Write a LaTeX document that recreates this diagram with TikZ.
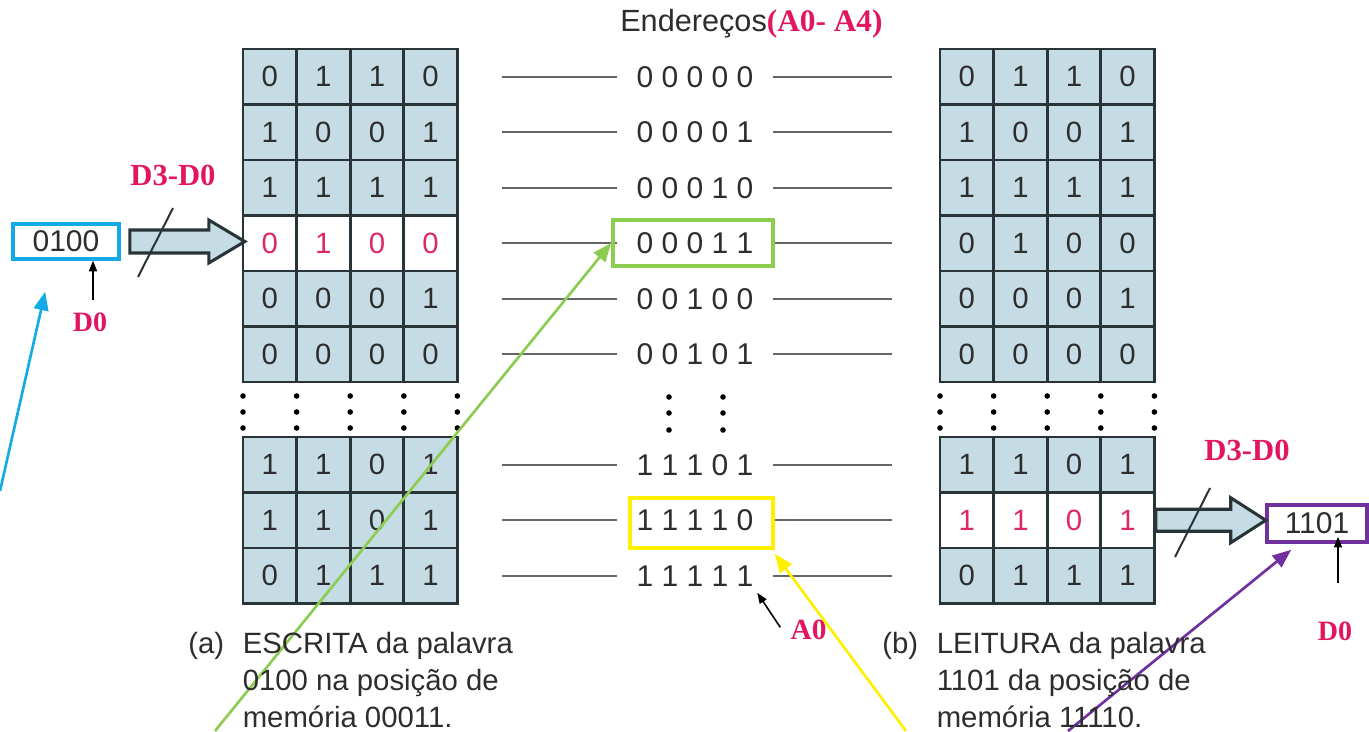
\documentclass[tikz,border=0pt]{standalone}
\usepackage{fontspec}
\setmainfont{Liberation Sans}
\newfontfamily\tms{Liberation Serif}
\usepackage{xcolor}
\usepackage{tikz}
\usetikzlibrary{positioning}
\usetikzlibrary{arrows.meta}
\tikzset{>=stealth}
\definecolor{cellfill}{RGB}{197,220,229}
\definecolor{gridline}{RGB}{40,52,56}
\definecolor{magred}{RGB}{226,22,96}
\definecolor{digred}{RGB}{222,40,100}
\definecolor{txt}{RGB}{45,45,45}
\definecolor{cyanbox}{RGB}{20,170,230}
\definecolor{greenbox}{RGB}{140,204,80}
\definecolor{yellowbox}{RGB}{255,240,0}
\definecolor{purplebox}{RGB}{112,48,160}
\tikzset{
cell/.style={draw=gridline, line width=2pt, fill=cellfill, minimum width=40.2pt, minimum height=41.6pt, inner sep=0pt, font=\fontsize{22}{22}\selectfont},
addr/.style={minimum width=117pt, inner sep=0pt, font=\fontsize{22.5}{22.5}\selectfont, text=txt},
addrline/.style={draw=black!60, line width=1.4pt},
lbl/.style={font=\fontsize{23}{23}\selectfont\tms\bfseries, text=magred, inner sep=0pt},
bus/.style={draw=gridline, line width=2.3pt, fill=cellfill, line join=miter},
hl/.style={line width=2.7pt, inner sep=0pt},
pointer/.style={line width=2pt, -{Triangle[length=14pt,width=11pt]}},
tick/.style={line width=1.2pt, -{Triangle[length=8pt,width=6pt]}},
caption/.style={anchor=base west, inner sep=0pt, font=\fontsize{22}{27.75}\selectfont, text=txt},
ellip/.style={fill=black}
}

\begin{document}
\begin{tikzpicture}[x=0.75pt,y=-0.75pt]
\useasboundingbox (0,0) rectangle (1369,731);

\foreach \bits/\bg/\fg [count=\r from 0] in {{0,1,1,0}/cellfill/txt,{1,0,0,1}/cellfill/txt,{1,1,1,1}/cellfill/txt,{0,1,0,0}/white/digred,{0,0,0,1}/cellfill/txt,{0,0,0,0}/cellfill/txt}
  \foreach \b [count=\c from 0] in \bits
    \node[cell, fill=\bg, text=\fg] (L-\r-\c) at ({269.8+53.6*\c}, {76.75+55.5*\r}) {\b};
\foreach \bits [count=\r from 6] in {{1,1,0,1},{1,1,0,1},{0,1,1,1}}
  \foreach \b [count=\c from 0] in \bits
    \node[cell, text=txt] (L-\r-\c) at ({269.8+53.6*\c}, {464.75+55.5*(\r-6)}) {\b};

\foreach \bits [count=\r from 0] in {{0,1,1,0},{1,0,0,1},{1,1,1,1},{0,1,0,0},{0,0,0,1},{0,0,0,0}}
  \foreach \b [count=\c from 0] in \bits
    \node[cell, text=txt] (R-\r-\c) at ({966.8+53.6*\c}, {76.75+55.5*\r}) {\b};
\foreach \bits/\bg/\fg [count=\r from 6] in {{1,1,0,1}/cellfill/txt,{1,1,0,1}/white/digred,{0,1,1,1}/cellfill/txt}
  \foreach \b [count=\c from 0] in \bits
    \node[cell, fill=\bg, text=\fg] (R-\r-\c) at ({966.8+53.6*\c}, {464.75+55.5*(\r-6)}) {\b};

\foreach \k in {0,...,4}
  \foreach \y in {396,412,428}{
    \fill[ellip] ({243+53.6*\k},\y) circle [radius=2.1pt];
    \fill[ellip] ({940+53.6*\k},\y) circle [radius=2.1pt];
  }
\foreach \x in {669,723}
  \foreach \y in {397,413,430}
    \fill[ellip] (\x,\y) circle [radius=2.1pt];

\node[anchor=base west, inner sep=0pt, font=\fontsize{23}{23}\selectfont, text=txt] (title) at (620,32) {Endereços{\fontsize{23.5}{23.5}\selectfont\tms\bfseries\color{magred}(A0- A4)}};

\foreach \a [count=\r from 0] in {0 0 0 0 0,0 0 0 0 1,0 0 0 1 0,0 0 0 1 1,0 0 1 0 0,0 0 1 0 1}{
  \node[addr] (A-\r) at (695, {76.75+55.5*\r}) {\a};
  \draw[addrline] (A-\r.west) -- ++(-115,0);
  \draw[addrline] (A-\r.east) -- ++(119,0);
}
\foreach \a [count=\r from 6] in {1 1 1 0 1,1 1 1 1 0,1 1 1 1 1}{
  \node[addr] (A-\r) at (695, {464.75+55.5*(\r-6)}) {\a};
  \draw[addrline] (A-\r.west) -- ++(-115,0);
  \draw[addrline] (A-\r.east) -- ++(119,0);
}

\node[hl, draw=greenbox, minimum width=120pt, minimum height=34.5pt] (gbox) at (693,243) {};
\node[hl, draw=yellowbox, minimum width=107.25pt, minimum height=37.5pt] (ybox) at (701.5,523) {};
\node[hl, draw=cyanbox, minimum width=79.5pt, minimum height=26pt, font=\fontsize{22.5}{22.5}\selectfont, text=txt] (cbox) at (66,241.5) {0100};
\node[hl, draw=purplebox, minimum width=75pt, minimum height=27.75pt, font=\fontsize{22.5}{22.5}\selectfont, text=txt] (pbox) at (1317,523.5) {1101};

\draw[bus] ([xshift=6.75pt]cbox.east) ++(0,-11.5) -- ++(79,0) -- ++(0,-10) -- ++(36,21.5) -- ++(-36,21.5) -- ++(0,-10) -- ++(-79,0) -- cycle;
\draw[bus] (R-7-3.east) ++(0,-11) -- ++(75,0) -- ++(0,-11.5) -- ++(35,22.5) -- ++(-35,22.5) -- ++(0,-11.5) -- ++(-75,0) -- cycle;
\draw[gridline, line width=1.5pt] (138,277) -- (173,208);
\draw[gridline, line width=1.5pt] (1175,557) -- (1210,488);

\node[lbl] (busL) at (173,175) {D3-D0};
\node[lbl] (busR) at (1247,450) {D3-D0};
\node[lbl, font=\fontsize{21}{21}\selectfont\tms\bfseries] (dzL) at (90,322.5) {D0};
\node[lbl, font=\fontsize{21}{21}\selectfont\tms\bfseries] (dzR) at (1335,631.5) {D0};
\node[lbl, font=\fontsize{22}{22}\selectfont\tms\bfseries] (azero) at (808.5,630) {A0};

\draw[tick] ([xshift=2.25pt,yshift=9.5pt]dzL.north) -- ([xshift=20.25pt]cbox.south);
\draw[tick] ([xshift=2.25pt,yshift=29pt]dzR.north) -- ([xshift=15.75pt,yshift=5.25pt]pbox.south);
\draw[tick] ([xshift=-7.5pt,yshift=2pt]azero.west) -- ([xshift=-12pt,yshift=-12.75pt]A-8.east);

\coordinate (cyanfrom) at (0,491);
\coordinate (greenfrom) at (215,731);
\coordinate (yellowfrom) at (906,731);
\coordinate (purplefrom) at (1068,731);
\draw[pointer, cyanbox] (cyanfrom) -- ([xshift=25.5pt,yshift=-23.25pt]cbox.south west);
\draw[pointer, greenbox] (greenfrom) -- (gbox.west);
\draw[pointer, yellowbox] (yellowfrom) -- ([yshift=-3pt]ybox.south east);
\draw[pointer, purplebox] (purplefrom) -- ([xshift=19.5pt,yshift=-4.5pt]pbox.south west);

\node[caption] (capA) at (188,653) {\begin{tabular}[t]{@{}l@{\hspace{14pt}}l@{}}(a) & ESCRITA da palavra\\ & 0100 na posição de\\ & memória 00011.\end{tabular}};
\node[caption] (capB) at (882,653) {\begin{tabular}[t]{@{}l@{\hspace{14pt}}l@{}}(b) & LEITURA da palavra\\ & 1101 da posição de\\ & memória 11110.\end{tabular}};
\end{tikzpicture}
\end{document}
